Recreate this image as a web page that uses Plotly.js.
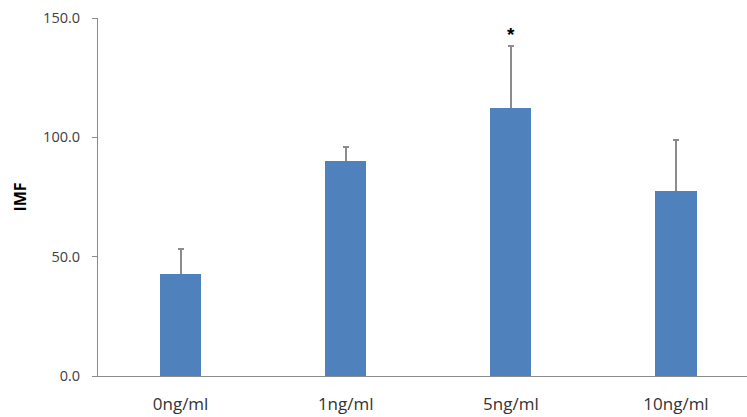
<!DOCTYPE html>
<html>
<head>
<meta charset="utf-8">
<script src="https://cdn.plot.ly/plotly-3.0.1.min.js"></script>
<style>html,body{margin:0;padding:0;background:#fff;}#chart{width:747px;height:417px;}</style>
</head>
<body>
<div id="chart"></div>
<script>
const categories = ["0ng/ml", "1ng/ml", "5ng/ml", "10ng/ml"];
const values = [42.7, 90.1, 112.1, 77.6];
const errorsPlus = [10.4, 6.0, 26.3, 21.3];
const yTicks = [0, 50, 100, 150];
const sigLabels = ["", "", "*", ""];

const annotations = categories.map((c, i) => sigLabels[i] ? {
  x: c, y: values[i] + errorsPlus[i], text: "<b>" + sigLabels[i] + "</b>", showarrow: false,
  yanchor: "bottom", yshift: -1, font: {family: "Liberation Sans, Arial", size: 19, color: "#000"}
} : null).filter(a => a);

const barColor = "#4f81bd";
Plotly.newPlot("chart", [{
  type: "bar",
  x: categories,
  y: values,
  width: 0.25,
  marker: {color: barColor, line: {width: 0}},
  error_y: {type: "data", symmetric: true, array: errorsPlus,
            color: "#8c8c8c", thickness: 2, width: 3}
}, {
  type: "bar",
  x: categories,
  y: values,
  width: 0.25,
  marker: {color: barColor, line: {width: 0}}
}], {
  width: 747, height: 417,
  margin: {l: 98, r: 0, t: 18, b: 41},
  paper_bgcolor: "#fff", plot_bgcolor: "#fff",
  showlegend: false,
  barmode: "overlay",
  bargap: 0,
  xaxis: {
    type: "category", range: [-0.5, 3.43],
    showline: true, linecolor: "#8c8c8c", linewidth: 1,
    ticks: "", showgrid: false, zeroline: false,
    ticklabelstandoff: 13,
    tickfont: {family: "Open Sans, Liberation Sans", size: 17, color: "#333"}
  },
  yaxis: {
    range: [0, 150], tickvals: yTicks, tickformat: ".1f",
    showline: true, linecolor: "#8c8c8c", linewidth: 1,
    ticks: "outside", ticklen: 5, tickcolor: "#8c8c8c",
    ticklabelstandoff: 9,
    showgrid: false, zeroline: false,
    tickfont: {family: "Open Sans, Liberation Sans", size: 14.5, color: "#404040"},
    title: {text: "<b>IMF</b>", standoff: 12, font: {family: "Open Sans, Liberation Sans", size: 16, color: "#000"}}
  },
  annotations: annotations
}, {displayModeBar: false, staticPlot: true});
</script>
</body>
</html>
